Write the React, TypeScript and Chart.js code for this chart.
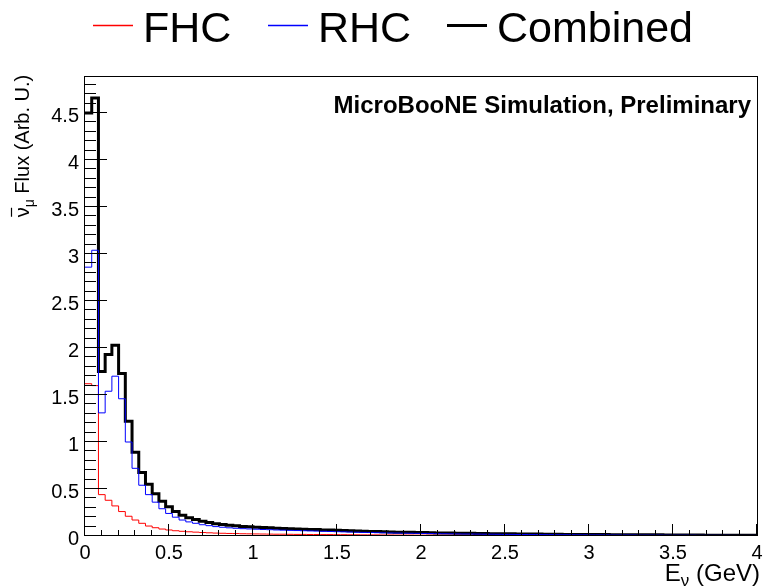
import React, { useEffect, useRef } from 'react';
import { Chart, registerables } from 'chart.js';

Chart.register(...registerables);

const BIN_WIDTH = 0.04;

const FHC = [
  1.62, 1.60, 0.44, 0.38, 0.32, 0.26, 0.21, 0.17, 0.135, 0.106,
  0.088, 0.074, 0.064, 0.056, 0.050, 0.045, 0.041, 0.037, 0.034, 0.031,
  0.029, 0.027, 0.026, 0.024, 0.023, 0.022, 0.021, 0.020, 0.019, 0.019,
  0.018, 0.017, 0.017, 0.016, 0.016, 0.015, 0.015, 0.014, 0.014, 0.013,
  0.013, 0.012, 0.012, 0.012, 0.011, 0.011, 0.010, 0.010, 0.010, 0.009,
  0.009, 0.009, 0.008, 0.008, 0.008, 0.008, 0.007, 0.007, 0.007, 0.007,
  0.006, 0.006, 0.006, 0.006, 0.006, 0.005, 0.005, 0.005, 0.005, 0.005,
  0.005, 0.004, 0.004, 0.004, 0.004, 0.004, 0.004, 0.004, 0.003, 0.003,
  0.003, 0.003, 0.003, 0.003, 0.003, 0.003, 0.003, 0.003, 0.003, 0.003,
  0.003, 0.003, 0.002, 0.002, 0.002, 0.002, 0.002, 0.002, 0.002, 0.002,
];

const RHC = [
  2.86, 3.04, 1.31, 1.54, 1.70, 1.46, 1.00, 0.72, 0.54, 0.44,
  0.36, 0.29, 0.24, 0.20, 0.17, 0.15, 0.135, 0.12, 0.11, 0.10,
  0.093, 0.087, 0.082, 0.078, 0.075, 0.072, 0.069, 0.067, 0.064, 0.062,
  0.060, 0.058, 0.056, 0.054, 0.052, 0.050, 0.048, 0.046, 0.044, 0.042,
  0.040, 0.038, 0.037, 0.035, 0.034, 0.032, 0.031, 0.030, 0.029, 0.028,
  0.027, 0.026, 0.025, 0.024, 0.023, 0.022, 0.021, 0.021, 0.020, 0.019,
  0.019, 0.018, 0.017, 0.017, 0.016, 0.016, 0.015, 0.015, 0.014, 0.014,
  0.013, 0.013, 0.013, 0.012, 0.012, 0.011, 0.011, 0.011, 0.010, 0.010,
  0.010, 0.010, 0.009, 0.009, 0.009, 0.009, 0.008, 0.008, 0.008, 0.008,
  0.008, 0.007, 0.007, 0.007, 0.007, 0.007, 0.006, 0.006, 0.006, 0.006,
];

const COMBINED = [
  4.50, 4.66, 1.75, 1.93, 2.03, 1.73, 1.22, 0.89, 0.675, 0.55,
  0.45, 0.37, 0.31, 0.26, 0.22, 0.195, 0.176, 0.157, 0.144, 0.131,
  0.122, 0.114, 0.108, 0.102, 0.098, 0.094, 0.090, 0.087, 0.083, 0.081,
  0.078, 0.075, 0.073, 0.070, 0.068, 0.065, 0.063, 0.060, 0.058, 0.055,
  0.053, 0.050, 0.049, 0.047, 0.045, 0.043, 0.041, 0.040, 0.039, 0.037,
  0.036, 0.035, 0.033, 0.032, 0.031, 0.030, 0.028, 0.028, 0.027, 0.026,
  0.025, 0.024, 0.023, 0.023, 0.022, 0.021, 0.020, 0.020, 0.019, 0.019,
  0.018, 0.017, 0.017, 0.016, 0.016, 0.015, 0.015, 0.015, 0.013, 0.013,
  0.013, 0.013, 0.012, 0.012, 0.012, 0.012, 0.011, 0.011, 0.011, 0.011,
  0.011, 0.010, 0.009, 0.009, 0.009, 0.009, 0.008, 0.008, 0.008, 0.008,
];

const SERIES_LABELS = ['FHC', 'RHC', 'Combined'];
const SERIES_COLORS = ['#ff0000', '#0000ff', '#000000'];
const SERIES_WIDTHS = [1, 1, 3];
const X_TICKS = [0, 0.5, 1, 1.5, 2, 2.5, 3, 3.5, 4];
const X_TICK_LABELS = ['0', '0.5', '1', '1.5', '2', '2.5', '3', '3.5', '4'];
const Y_TICKS = [0, 0.5, 1, 1.5, 2, 2.5, 3, 3.5, 4, 4.5];
const Y_TICK_LABELS = ['0', '0.5', '1', '1.5', '2', '2.5', '3', '3.5', '4', '4.5'];
const X_MIN = 0;
const X_MAX = 4;
const Y_MIN = 0;
const Y_MAX = 4.883;
const MINOR_DIV = 5;
const ANNOTATION = 'MicroBooNE Simulation, Preliminary';

const W = 765;
const H = 587;
const FONT = '"Liberation Sans", Arial, Helvetica, sans-serif';

function toSteps(values: number[]) {
  const pts = values.map((v, i) => ({ x: i * BIN_WIDTH, y: v }));
  pts.push({ x: values.length * BIN_WIDTH, y: values[values.length - 1] });
  return pts;
}

const rootStylePlugin = {
  id: 'rootStyle',
  afterDatasetsDraw(chart: any) {
    const { ctx, chartArea: a, scales } = chart;
    const xs = scales.x;
    const ys = scales.y;
    ctx.save();
    ctx.strokeStyle = '#000';
    ctx.fillStyle = '#000';
    ctx.lineWidth = 1;

    // frame
    ctx.strokeRect(a.left - 0.5, a.top - 0.5, a.right - a.left + 1, a.bottom - a.top);

    // ticks (inward)
    const yMajorStep = Y_TICKS[1] - Y_TICKS[0];
    const yMinorStep = yMajorStep / MINOR_DIV;
    ctx.beginPath();
    for (let i = 0; i * yMinorStep <= Y_MAX + 1e-9; i++) {
      const v = i * yMinorStep;
      const py = Math.round(ys.getPixelForValue(v)) - 0.5;
      const len = i % MINOR_DIV === 0 ? 22 : 11;
      ctx.moveTo(a.left, py);
      ctx.lineTo(a.left + len, py);
    }
    const xMajorStep = X_TICKS[1] - X_TICKS[0];
    const xMinorStep = xMajorStep / MINOR_DIV;
    for (let i = 0; i * xMinorStep <= X_MAX + 1e-9; i++) {
      const v = i * xMinorStep;
      const px = Math.round(xs.getPixelForValue(v)) - 0.5;
      const len = i % MINOR_DIV === 0 ? 12 : 6;
      ctx.moveTo(px, a.bottom);
      ctx.lineTo(px, a.bottom - len);
    }
    ctx.stroke();

    // tick labels
    ctx.font = `20px ${FONT}`;
    ctx.textAlign = 'right';
    ctx.textBaseline = 'middle';
    Y_TICKS.forEach((v, i) => {
      ctx.fillText(Y_TICK_LABELS[i], a.left - 6, ys.getPixelForValue(v) + 3);
    });
    ctx.textAlign = 'center';
    ctx.textBaseline = 'top';
    X_TICKS.forEach((v, i) => {
      ctx.fillText(X_TICK_LABELS[i], xs.getPixelForValue(v), a.bottom + 7);
    });

    // x title: E_nu (GeV), right aligned
    {
      const big = `24px ${FONT}`;
      const small = `17px ${FONT}`;
      ctx.textAlign = 'left';
      ctx.textBaseline = 'alphabetic';
      ctx.font = big;
      const wE = ctx.measureText('E').width;
      const wRest = ctx.measureText(' (GeV)').width;
      ctx.font = small;
      const wNu = ctx.measureText('ν').width;
      const total = wE + wNu + wRest;
      let x = 760 - total;
      const base = 581;
      ctx.font = big;
      ctx.fillText('E', x, base);
      x += wE;
      ctx.font = small;
      ctx.fillText('ν', x, base + 5);
      x += wNu;
      ctx.font = big;
      ctx.fillText(' (GeV)', x, base);
    }

    // y title: nu-bar_mu Flux (Arb. U.), rotated
    {
      const big = `20px ${FONT}`;
      const small = `14px ${FONT}`;
      ctx.save();
      ctx.translate(22, 146);
      ctx.rotate(-Math.PI / 2);
      ctx.textAlign = 'left';
      ctx.textBaseline = 'alphabetic';
      ctx.font = big;
      const wNu = ctx.measureText('ν').width;
      const wRest = ctx.measureText(' Flux (Arb. U.)').width;
      ctx.font = small;
      const wMu = ctx.measureText('μ').width;
      const total = wNu + wMu + wRest;
      let x = -total / 2;
      const base = 7;
      ctx.font = big;
      ctx.fillText('ν', x, base);
      ctx.beginPath();
      ctx.lineWidth = 1.2;
      ctx.moveTo(x + 0.5, base - 17.5);
      ctx.lineTo(x + wNu - 0.5, base - 17.5);
      ctx.stroke();
      x += wNu;
      ctx.font = small;
      ctx.fillText('μ', x, base + 5);
      x += wMu;
      ctx.font = big;
      ctx.fillText(' Flux (Arb. U.)', x, base);
      ctx.restore();
    }

    // annotation
    ctx.font = `bold 24px ${FONT}`;
    ctx.textAlign = 'right';
    ctx.textBaseline = 'alphabetic';
    ctx.fillText(ANNOTATION, 751, 113);

    // legend
    const legendX = [93, 268, 447];
    ctx.font = `43px ${FONT}`;
    ctx.textAlign = 'left';
    ctx.textBaseline = 'alphabetic';
    SERIES_LABELS.forEach((label, i) => {
      const lx = legendX[i];
      ctx.beginPath();
      ctx.strokeStyle = SERIES_COLORS[i];
      ctx.lineWidth = SERIES_WIDTHS[i] === 1 ? 1.6 : SERIES_WIDTHS[i];
      ctx.moveTo(lx, 25.5);
      ctx.lineTo(lx + 40, 25.5);
      ctx.stroke();
      ctx.fillStyle = '#000';
      ctx.fillText(label, lx + 50, 42);
    });

    ctx.restore();
  },
};

export default function App() {
  const ref = useRef<HTMLCanvasElement | null>(null);

  useEffect(() => {
    document.body.style.margin = '0';
    document.body.style.overflow = 'hidden';
    const canvas = ref.current;
    if (!canvas) return;
    const series = [FHC, RHC, COMBINED];
    const drawOrder = [2, 1, 3];
    const chart = new Chart(canvas, {
      type: 'line',
      data: {
        datasets: series.map((values, i) => ({
          label: SERIES_LABELS[i],
          data: toSteps(values),
          borderColor: SERIES_COLORS[i],
          borderWidth: SERIES_WIDTHS[i],
          stepped: 'before',
          pointRadius: 0,
          fill: false,
          order: drawOrder[i],
        })),
      },
      options: {
        responsive: false,
        animation: false,
        devicePixelRatio: 1,
        parsing: false as any,
        normalized: true,
        layout: { padding: { left: 0, right: W - 757, top: 77, bottom: 0 } },
        plugins: {
          legend: { display: false },
          tooltip: { enabled: false },
          title: { display: false },
        },
        scales: {
          x: {
            type: 'linear',
            min: X_MIN,
            max: X_MAX,
            grid: { display: false, drawTicks: false },
            border: { display: false },
            ticks: { display: false },
            afterFit: (s: any) => {
              s.height = H - 536;
            },
          },
          y: {
            type: 'linear',
            min: Y_MIN,
            max: Y_MAX,
            grid: { display: false, drawTicks: false },
            border: { display: false },
            ticks: { display: false },
            afterFit: (s: any) => {
              s.width = 85;
            },
          },
        },
      },
      plugins: [rootStylePlugin],
    } as any);
    return () => chart.destroy();
  }, []);

  return (
    <canvas
      ref={ref}
      width={W}
      height={H}
      style={{ display: 'block', width: W, height: H, background: '#fff' }}
    />
  );
}
